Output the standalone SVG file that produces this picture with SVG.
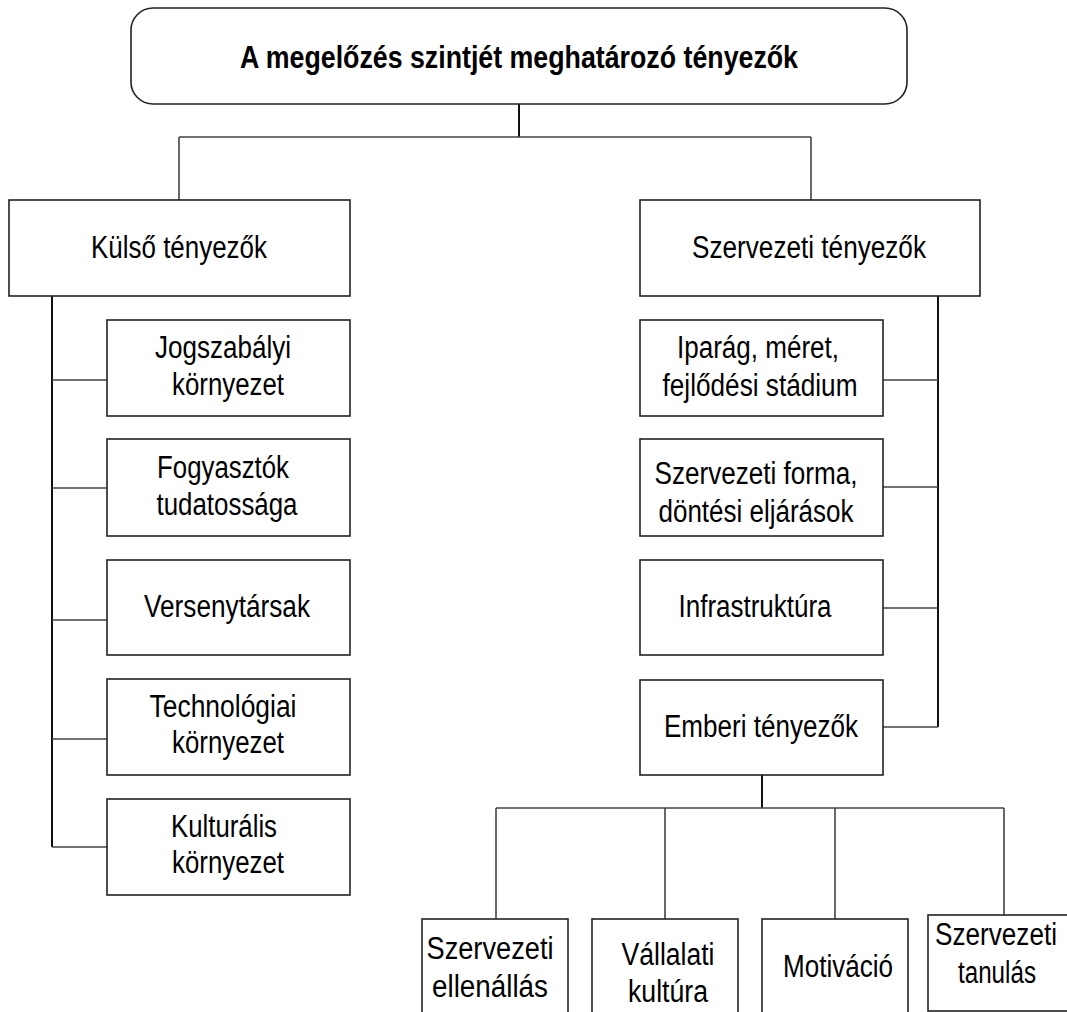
<svg xmlns="http://www.w3.org/2000/svg" width="1067" height="1012" viewBox="0 0 1067 1012">
<style>
.box{fill:#ffffff;stroke:#222222;stroke-width:1.6}
.t{font-family:"Liberation Sans",Arial,sans-serif;font-size:31px;fill:#000000;text-anchor:middle}
.b{font-weight:bold}
.trunk{stroke:#111111;stroke-width:2;fill:none}
.br{stroke:#444444;stroke-width:1.6;fill:none}
</style>
<rect width="1067" height="1012" fill="#ffffff"/>
<g id="connectors">
<path class="trunk" d="M519,104 V137"/>
<path class="br" d="M179,137 H811 M179,137 V200 M811,137 V200"/>
<path class="trunk" d="M52,296 V847"/>
<path class="br" d="M52,380 H107 M52,488 H107 M52,620 H107 M52,739 H107 M52,847 H107"/>
<path class="trunk" d="M938,296 V727"/>
<path class="br" d="M883,380 H938 M883,487 H938 M883,608 H938 M883,727 H938"/>
<path class="trunk" d="M762,775 V808"/>
<path class="br" d="M496,808 H1004 M496,808 V919 M665,808 V919 M835,808 V919 M1004,808 V915"/>
</g>
<g id="root">
<rect class="box" x="131" y="8" width="776" height="96" rx="22" ry="22"/>
<text class="t b" x="519" y="68" textLength="558" lengthAdjust="spacingAndGlyphs">A megelőzés szintjét meghatározó tényezők</text>
</g>
<g id="kulso">
<rect class="box" x="9" y="200" width="341" height="96"/>
<text class="t" x="179" y="258" textLength="176" lengthAdjust="spacingAndGlyphs">Külső tényezők</text>
</g>
<g id="szervezeti">
<rect class="box" x="640" y="200" width="340" height="96"/>
<text class="t" x="809" y="258" textLength="234" lengthAdjust="spacingAndGlyphs">Szervezeti tényezők</text>
</g>
<g id="jogszabalyi">
<rect class="box" x="107" y="320" width="243" height="96"/>
<text class="t" x="223" y="358" textLength="136" lengthAdjust="spacingAndGlyphs">Jogszabályi</text>
<text class="t" x="228" y="395" textLength="112" lengthAdjust="spacingAndGlyphs">környezet</text>
</g>
<g id="fogyasztok">
<rect class="box" x="107" y="439" width="243" height="97"/>
<text class="t" x="223" y="478" textLength="132" lengthAdjust="spacingAndGlyphs">Fogyasztók</text>
<text class="t" x="227" y="515" textLength="141" lengthAdjust="spacingAndGlyphs">tudatossága</text>
</g>
<g id="versenytarsak">
<rect class="box" x="107" y="560" width="243" height="95"/>
<text class="t" x="227" y="617" textLength="166" lengthAdjust="spacingAndGlyphs">Versenytársak</text>
</g>
<g id="technologiai">
<rect class="box" x="107" y="679" width="243" height="96"/>
<text class="t" x="223" y="717" textLength="147" lengthAdjust="spacingAndGlyphs">Technológiai</text>
<text class="t" x="228" y="753" textLength="112" lengthAdjust="spacingAndGlyphs">környezet</text>
</g>
<g id="kulturalis">
<rect class="box" x="107" y="799" width="243" height="96"/>
<text class="t" x="224" y="837" textLength="106" lengthAdjust="spacingAndGlyphs">Kulturális</text>
<text class="t" x="228" y="873" textLength="112" lengthAdjust="spacingAndGlyphs">környezet</text>
</g>
<g id="iparag">
<rect class="box" x="640" y="320" width="243" height="96"/>
<text class="t" x="758" y="358" textLength="162" lengthAdjust="spacingAndGlyphs">Iparág, méret,</text>
<text class="t" x="760" y="396" textLength="195" lengthAdjust="spacingAndGlyphs">fejlődési stádium</text>
</g>
<g id="forma">
<rect class="box" x="640" y="439" width="243" height="97"/>
<text class="t" x="756" y="484" textLength="203" lengthAdjust="spacingAndGlyphs">Szervezeti forma,</text>
<text class="t" x="756" y="522" textLength="195" lengthAdjust="spacingAndGlyphs">döntési eljárások</text>
</g>
<g id="infrastruktura">
<rect class="box" x="640" y="560" width="243" height="95"/>
<text class="t" x="755" y="617" textLength="153" lengthAdjust="spacingAndGlyphs">Infrastruktúra</text>
</g>
<g id="emberi">
<rect class="box" x="640" y="680" width="243" height="95"/>
<text class="t" x="761" y="737" textLength="194" lengthAdjust="spacingAndGlyphs">Emberi tényezők</text>
</g>
<g id="ellenallas">
<rect class="box" x="422" y="919" width="146" height="110"/>
<text class="t" x="490" y="959" textLength="127" lengthAdjust="spacingAndGlyphs">Szervezeti</text>
<text class="t" x="490" y="997" textLength="116" lengthAdjust="spacingAndGlyphs">ellenállás</text>
</g>
<g id="vallalati">
<rect class="box" x="592" y="919" width="146" height="110"/>
<text class="t" x="668" y="965" textLength="93" lengthAdjust="spacingAndGlyphs">Vállalati</text>
<text class="t" x="668" y="1002" textLength="80" lengthAdjust="spacingAndGlyphs">kultúra</text>
</g>
<g id="motivacio">
<rect class="box" x="762" y="919" width="146" height="110"/>
<text class="t" x="838" y="977" textLength="110" lengthAdjust="spacingAndGlyphs">Motiváció</text>
</g>
<g id="tanulas">
<rect class="box" x="928" y="915" width="147" height="96"/>
<text class="t" x="996" y="945" textLength="122" lengthAdjust="spacingAndGlyphs">Szervezeti</text>
<text class="t" x="997" y="983" textLength="78" lengthAdjust="spacingAndGlyphs">tanulás</text>
</g>
</svg>
